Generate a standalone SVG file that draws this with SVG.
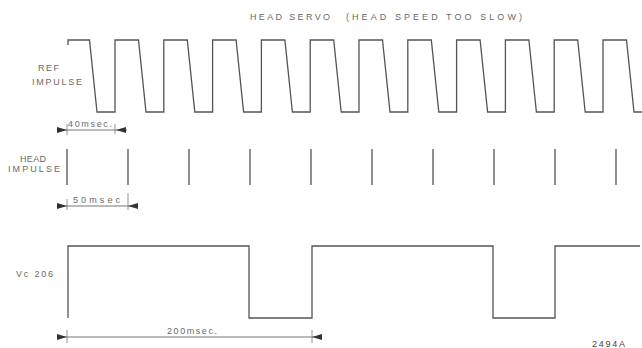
<svg xmlns="http://www.w3.org/2000/svg" width="642" height="348" viewBox="0 0 642 348">
<defs>
<style>
.t{font-family:"Liberation Sans","DejaVu Sans",sans-serif;font-size:9px;fill:#6a6a6a;}
.w{fill:none;stroke:#555;stroke-width:1.3;stroke-linejoin:miter;}
.d{fill:none;stroke:#777;stroke-width:1;}
.e{fill:none;stroke:#888;stroke-width:0.9;}
.a{fill:#333;}
</style>
</defs>
<rect width="642" height="348" fill="#fff"/>
<g id="title">
<text class="t" x="250" y="20" textLength="80" lengthAdjust="spacing">HEAD SERVO</text>
<text class="t" x="346" y="20" textLength="176" lengthAdjust="spacing">(HEAD SPEED TOO SLOW)</text>
</g>
<g id="ref-impulse">
<text class="t" x="38" y="71" textLength="21" lengthAdjust="spacing">REF</text>
<text class="t" x="32" y="85" textLength="50" lengthAdjust="spacing">IMPULSE</text>
<path class="w" d="M68,45 L68,40 H89.5 L97,112 H115 V40 H138.5 L146,112 H163.8 V40 H187.3 L194.8,112 H212.6 V40 H236.1 L243.6,112 H261.4 V40 H284.9 L292.4,112 H310.2 V40 H333.7 L341.2,112 H359 V40 H382.5 L390,112 H407.8 V40 H431.3 L438.8,112 H456.6 V40 H480.1 L487.6,112 H505.4 V40 H528.9 L536.4,112 H554.2 V40 H577.7 L585.2,112 H603 V40 H626.5 L634,112 H642"/>
</g>
<g id="head-impulse">
<text class="t" x="20" y="162" textLength="26" lengthAdjust="spacing">HEAD</text>
<text class="t" x="8" y="172" textLength="52" lengthAdjust="spacing">IMPULSE</text>
<path class="w" stroke="#777" d="M67,149V185 M128,149V185 M189,149V185 M250,149V185 M311,149V185 M372,149V185 M433,149V185 M494,149V185 M555,149V185 M616,149V185"/>
</g>
<g id="vc206">
<text class="t" x="16" y="277" textLength="37" lengthAdjust="spacing">Vc 206</text>
<path class="w" d="M68,318 V246 H249 V318 H312 V246 H493 V318 H555 V246 H640"/>
</g>
<g id="connectors">
<path class="e" d="M67,124V135 M115,124V134"/>
<path class="d" d="M57,130H127"/>
<path class="a" d="M57,127L67,130L57,133Z M126,127L116,130L126,133Z"/>
<text class="t" x="68" y="127" textLength="44" lengthAdjust="spacing">40msec.</text>
<path class="e" d="M67,199V210 M128,193V210"/>
<path class="d" d="M57,206H138"/>
<path class="a" d="M57,203L67,206L57,209Z M138,203L128,206L138,209Z"/>
<text class="t" x="73" y="203" textLength="47" lengthAdjust="spacing">50msec</text>
<path class="e" d="M67,330V343 M312,330V343"/>
<path class="d" d="M57,337H322"/>
<path class="a" d="M57,334L67,337L57,340Z M322,334L312,337L322,340Z"/>
<text class="t" x="167" y="334" textLength="50" lengthAdjust="spacing">200msec.</text>
</g>
<g id="figure-number">
<text class="t" x="592" y="347" textLength="33" lengthAdjust="spacing" style="font-size:9px;fill:#444">2494A</text>
</g>
</svg>
